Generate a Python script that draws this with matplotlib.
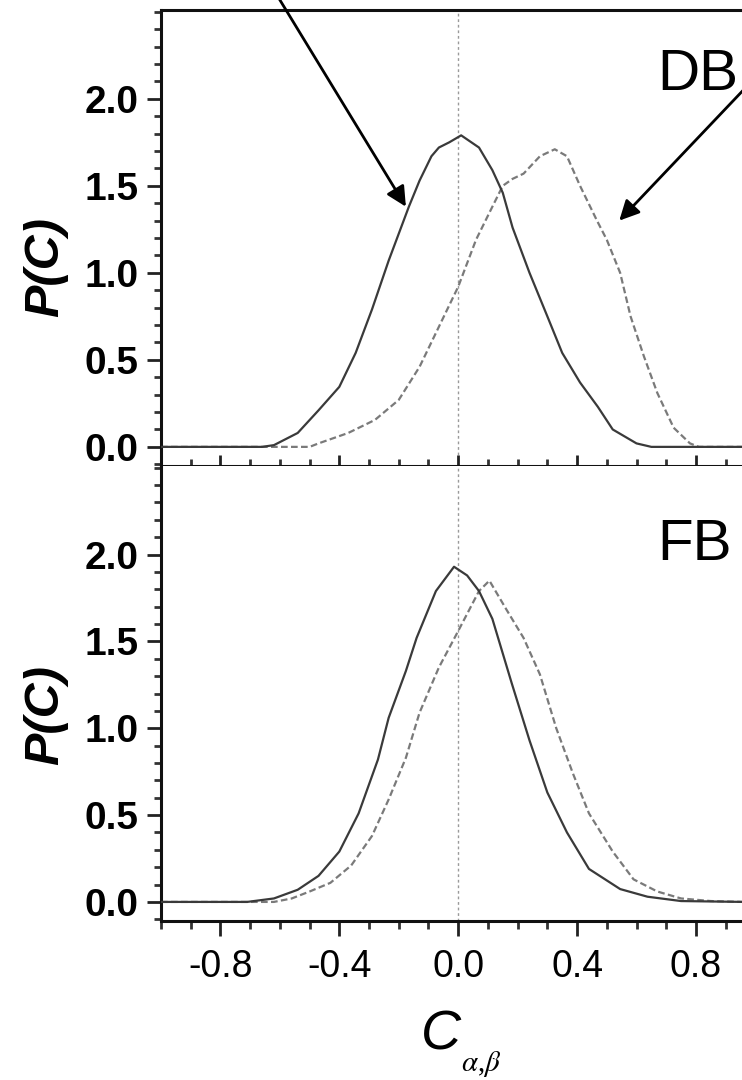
import numpy as np
import matplotlib
matplotlib.use('Agg')
import matplotlib.pyplot as plt
from matplotlib.ticker import MultipleLocator, FixedLocator

plt.rcParams['font.family'] = ['Liberation Sans', 'DejaVu Sans']

## DB panel: two distributions of the correlation coefficient
db_x1 = [-1.0, -0.66, -0.62, -0.54, -0.47, -0.40, -0.345, -0.29, -0.234, -0.166, -0.13, -0.09,
         -0.065, -0.03, 0.01, 0.07, 0.115, 0.15, 0.183, 0.24, 0.30, 0.35, 0.41, 0.47, 0.52,
         0.60, 0.65, 0.96]
db_y1 = [0, 0, 0.01, 0.08, 0.21, 0.345, 0.54, 0.79, 1.07, 1.38, 1.53, 1.67,
         1.72, 1.75, 1.79, 1.72, 1.59, 1.46, 1.26, 1.0, 0.75, 0.54, 0.37, 0.23, 0.10,
         0.02, 0, 0]
db_x2 = [-1.0, -0.5, -0.47, -0.37, -0.28, -0.2, -0.13, -0.065, 0.0, 0.06, 0.115, 0.15, 0.183,
         0.22, 0.275, 0.325, 0.366, 0.41, 0.467, 0.50, 0.545, 0.58, 0.625, 0.67, 0.725, 0.78,
         0.81, 0.96]
db_y2 = [0, 0, 0.02, 0.08, 0.155, 0.27, 0.46, 0.69, 0.92, 1.19, 1.38, 1.50, 1.54,
         1.57, 1.67, 1.71, 1.67, 1.50, 1.30, 1.19, 1.0, 0.75, 0.52, 0.31, 0.11, 0.02,
         0, 0]

## FB panel
fb_x1 = [-1.0, -0.71, -0.62, -0.54, -0.47, -0.40, -0.335, -0.27, -0.234, -0.176, -0.14, -0.075,
         -0.014, 0.03, 0.07, 0.115, 0.18, 0.24, 0.30, 0.366, 0.44, 0.545, 0.637, 0.75, 0.96]
fb_y1 = [0, 0, 0.02, 0.07, 0.15, 0.29, 0.51, 0.82, 1.06, 1.33, 1.52, 1.79,
         1.93, 1.88, 1.79, 1.63, 1.26, 0.93, 0.63, 0.40, 0.19, 0.074, 0.03, 0.005, 0]
fb_x2 = [-1.0, -0.62, -0.56, -0.5, -0.43, -0.36, -0.29, -0.234, -0.176, -0.13, -0.065, 0.0,
         0.07, 0.105, 0.16, 0.22, 0.275, 0.33, 0.386, 0.44, 0.52, 0.59, 0.67, 0.75, 0.85, 0.96]
fb_y2 = [0, 0, 0.02, 0.06, 0.11, 0.21, 0.38, 0.59, 0.83, 1.09, 1.35, 1.56,
         1.79, 1.85, 1.69, 1.52, 1.31, 1.0, 0.74, 0.51, 0.29, 0.13, 0.06, 0.02, 0.005, 0]

xticks = [-0.8, -0.4, 0.0, 0.4, 0.8]
xticklabels = ['-0.8', '-0.4', '0.0', '0.4', '0.8']
yticks = [0.0, 0.5, 1.0, 1.5, 2.0]
yticklabels = ['0.0', '0.5', '1.0', '1.5', '2.0']

fig = plt.figure(figsize=(7.42, 10.8), dpi=100)
ax1 = fig.add_axes([0.217, 0.5685, 0.783, 0.4222])
ax2 = fig.add_axes([0.217, 0.1472, 0.783, 0.4213])

solid = dict(color='#3a3a3a', lw=1.6, ls='-')
dashed = dict(color='#7a7a7a', lw=1.6, ls=(0, (3, 1.5)))

for ax, (x1, y1, x2, y2), name in [(ax1, (db_x1, db_y1, db_x2, db_y2), 'DB'),
                                   (ax2, (fb_x1, fb_y1, fb_x2, fb_y2), 'FB')]:
    ax.axvline(0.0, color='#9a9a9a', lw=1.0, ls=(0, (2, 2)), zorder=1)
    ax.plot(x2, y2, **dashed, zorder=2)
    ax.plot(x1, y1, **solid, zorder=3)
    ax.set_xlim(-1.0, 0.955)
    ax.set_ylim(-0.11, 2.51)
    ax.spines['right'].set_visible(False)
    for s in ['left', 'top', 'bottom']:
        ax.spines[s].set_linewidth(2.2)
        ax.spines[s].set_color('#111111')
    ax.yaxis.set_major_locator(FixedLocator(yticks))
    ax.set_yticklabels(yticklabels)
    ax.yaxis.set_minor_locator(MultipleLocator(0.1))
    ax.xaxis.set_major_locator(FixedLocator(xticks))
    ax.xaxis.set_minor_locator(MultipleLocator(0.1))
    ax.tick_params(axis='y', which='major', direction='out', length=10, width=2,
                   labelsize=28, pad=6, color='#222222')
    ax.tick_params(axis='y', which='minor', direction='out', length=5, width=2, color='#333333')
    for lab in ax.get_yticklabels():
        lab.set_fontweight('bold')
    ax.text(0.669, 2.05 if name == 'DB' else 1.97, name, fontsize=42,
            ha='left', va='baseline')

# shared boundary between the panels: ticks cross the line
ax1.tick_params(axis='x', which='major', direction='inout', length=16, width=2,
                labelbottom=False, color='#222222')
ax1.tick_params(axis='x', which='minor', direction='inout', length=10, width=2, color='#333333')
ax2.tick_params(axis='x', which='major', direction='out', length=11, width=2,
                labelsize=27, pad=9, color='#222222')
ax2.tick_params(axis='x', which='minor', direction='out', length=6, width=2, color='#333333')
ax2.set_xticklabels(xticklabels)
ax2.spines['top'].set_visible(False)

ax1.annotate('', xy=(-0.176, 1.38), xytext=(-0.64, 2.68), annotation_clip=False,
             arrowprops=dict(arrowstyle='-|>', color='k', lw=2, mutation_scale=30,
                             shrinkA=0, shrinkB=0))
ax1.annotate('', xy=(0.542, 1.30), xytext=(1.054, 2.22), annotation_clip=False,
             arrowprops=dict(arrowstyle='-|>', color='k', lw=2, mutation_scale=30,
                             shrinkA=0, shrinkB=0))

for yc in (267, 715):
    fig.text(46 / 742, 1 - yc / 1080, 'P(C)', rotation=90, fontsize=35, fontstyle='italic',
             fontweight='bold', ha='center', va='center')

# x label: C with a small serif subscript
fig.text(441 / 742, 1 - 1035 / 1080, 'C', fontsize=40, fontstyle='italic',
         ha='center', va='center')
fig.text(481 / 742, 1 - 1064 / 1080, r'$\alpha$,$\beta$', fontsize=21,
         ha='center', va='center',
         family=['Liberation Serif', 'DejaVu Serif'],
         math_fontfamily='stix')

fig.savefig('out.png', dpi=100)
